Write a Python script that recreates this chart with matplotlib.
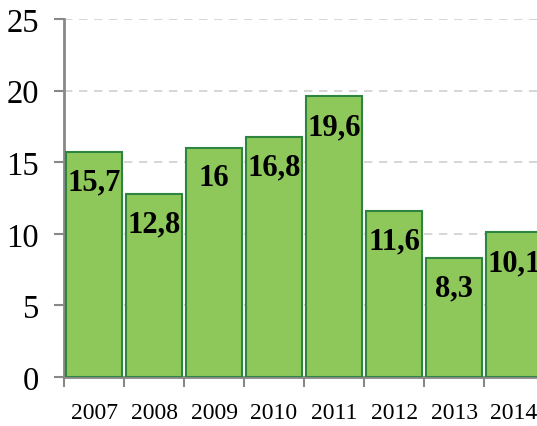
import matplotlib.pyplot as plt
import numpy as np

# Data
years = ["2007", "2008", "2009", "2010", "2011", "2012", "2013", "2014"]
values = [15.7, 12.8, 16, 16.8, 19.6, 11.6, 8.3, 10.1]
labels = ["15,7", "12,8", "16", "16,8", "19,6", "11,6", "8,3", "10,1"]

plt.rcParams['font.family'] = ['Liberation Serif', 'DejaVu Serif']

fig = plt.figure(figsize=(5.37, 4.27), dpi=100)
ax = fig.add_axes([0.1192, 0.1148, 0.894, 0.838])

x = np.arange(len(years))
ax.bar(x, values, width=0.92, color='#8fc85a', edgecolor='#2e8540', linewidth=1.5, zorder=3)

# value labels inside bars
for xi, v, lab in zip(x, values, labels):
    ax.annotate(lab, (xi, v), xytext=(0, -30), textcoords='offset pixels',
                ha='center', va='center', fontsize=22, fontweight='bold', color='black', zorder=4)

ax.set_xlim(-0.5, len(years) - 0.5)
ax.set_ylim(0, 25)
ax.set_yticks([0, 5, 10, 15, 20, 25])
ax.grid(axis='y', color='#d0d0d0', linestyle=(0, (5, 4)), linewidth=1.2, zorder=0)

ax.set_xticks(x)
ax.set_xticklabels(years, fontsize=17)
ax.set_xticks(np.arange(len(years) + 1) - 0.5, minor=True)
ax.tick_params(axis='x', which='major', length=0, pad=18)
ax.tick_params(axis='x', which='minor', length=7, width=1.5, color='#888888', direction='out')
ax.tick_params(axis='y', length=7, width=1.5, color='#888888', labelsize=23.5, pad=11)

for s in ['top', 'right']:
    ax.spines[s].set_visible(False)
for s in ['left', 'bottom']:
    ax.spines[s].set_color('#888888')
    ax.spines[s].set_linewidth(2)

fig.savefig('out.png', dpi=100)
